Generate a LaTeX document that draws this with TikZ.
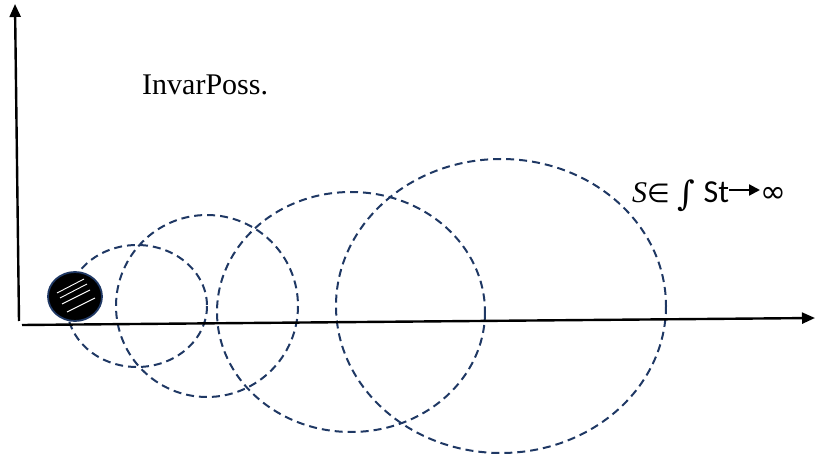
\documentclass[tikz,border=0pt]{standalone}
\usepackage{fontspec}
\setmainfont{Liberation Serif}
\newfontfamily\calib{Carlito}
\newfontfamily\djv{DejaVu Sans}
\newfontfamily\djs{DejaVu Serif}
\usetikzlibrary{arrows.meta}
\definecolor{navy}{HTML}{1F3864}
\tikzset{
  axis/.style={line width=2.4pt,-{Triangle[length=13pt,width=11pt]}},
  orbit/.style={draw=navy,line width=2pt,dash pattern=on 8pt off 5pt},
  hatch/.style={draw=white,line width=0.9pt},
  lbl/.style={inner sep=0pt,anchor=base west}
}
\begin{document}
\begin{tikzpicture}[x=1pt,y=-1pt]
\useasboundingbox (0,0) rectangle (815,457);
% orbits
\draw[orbit] (137,306) ellipse [x radius=70,y radius=61];
\draw[orbit] (207,306) ellipse [x radius=91,y radius=91];
\draw[orbit] (351,312) ellipse [x radius=134,y radius=120];
\draw[orbit] (501,306) ellipse [x radius=165,y radius=147];
% axes
\coordinate (o1) at (19,321);
\coordinate (ytop) at (15,4);
\coordinate (o2) at (22,325);
\coordinate (xend) at (815,318);
\draw[axis] (o1) -- (ytop);
\draw[axis] (o2) -- (xend);
% black body
\filldraw[fill=black,draw=navy,line width=1.8pt] (75,296.5) ellipse [x radius=27,y radius=24.5];
\draw[hatch] (57,293) -- (84,279);
\draw[hatch] (60,298) -- (87,284);
\draw[hatch] (62,304) -- (90,290);
\draw[hatch] (67,312) -- (95,298);
% labels
\node[lbl,font=\fontsize{30}{36}\selectfont] (inv) at (142,95) {InvarPoss.};
\node[lbl,font=\fontsize{30}{36}\selectfont] (st) at (632,203)
  {\textit{S}{\djv\fontsize{26}{30}\selectfont ∈}\hspace{8pt}{\djs\fontsize{34}{30}\selectfont\raisebox{-3pt}{∫}}\hspace{8pt}{\calib\fontsize{32}{36}\selectfont St}};
\node[lbl,font=\djv\fontsize{31}{36}\selectfont] (inf) at (760,203) {∞};
\draw[line width=2.2pt,-{Triangle[length=11pt,width=11pt]}] (st.east |- 0,190) -- (inf.west |- 0,190);
\end{tikzpicture}
\end{document}
